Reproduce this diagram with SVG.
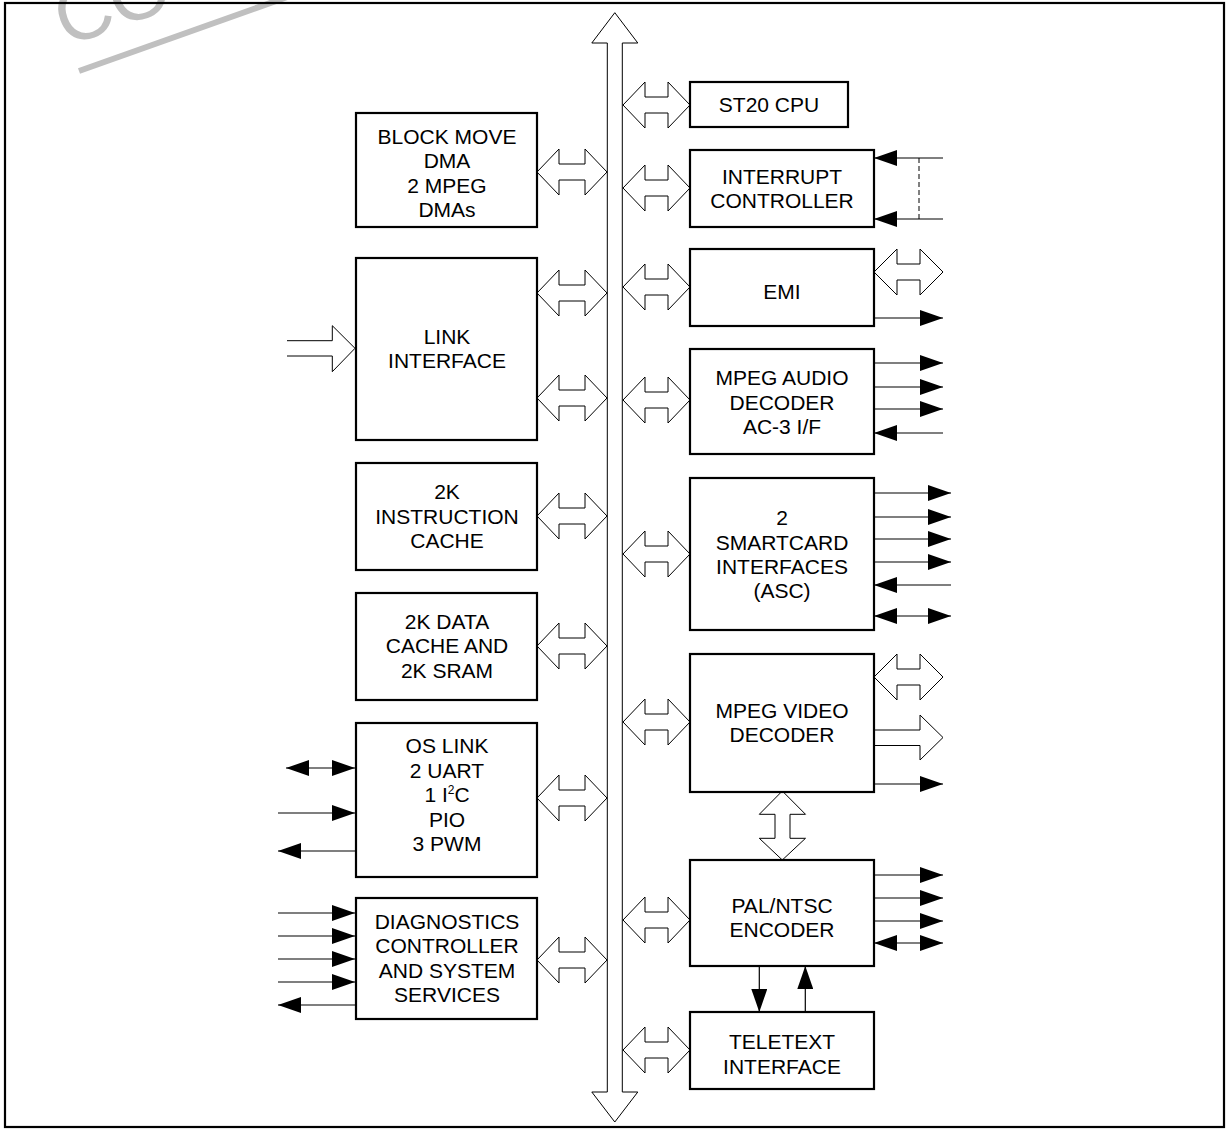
<svg xmlns="http://www.w3.org/2000/svg" width="1227" height="1131" viewBox="0 0 1227 1131">
<style>
.box{fill:#fff;stroke:#000;stroke-width:2.2}
.hol{fill:#fff;stroke:#000;stroke-width:1}
.ln{fill:none;stroke:#000;stroke-width:1.2}
.t{font-family:"Liberation Sans",Arial,sans-serif;font-size:21px;fill:#000;text-anchor:middle}
</style>
<defs>
<marker id="ah" viewBox="0 0 23 16" refX="23" refY="8" markerWidth="23" markerHeight="16" markerUnits="userSpaceOnUse" orient="auto-start-reverse">
<path d="M0,0 L23,8 L0,16 Z" fill="#000"/>
</marker>
<path id="dblR" d="M0,0 L22,-23 L22,-8 L45,-8 L45,-23 L67,0 L45,23 L45,8 L22,8 L22,23 Z"/>
<path id="dblL" d="M0,0 L22,-23 L22,-8 L48,-8 L48,-23 L70,0 L48,23 L48,8 L22,8 L22,23 Z"/>
<path id="dblO" d="M0,0 L23,-23 L23,-8 L46,-8 L46,-23 L69,0 L46,23 L46,8 L23,8 L23,23 Z"/>
</defs>

<!-- watermark -->
<g id="watermark">
<line x1="79" y1="71" x2="290" y2="-4" stroke="#c0c0c0" stroke-width="6"/>
<text x="66" y="47" transform="rotate(-20 66 47)" style="font-family:'Liberation Sans',Arial,sans-serif;font-size:78px;fill:#c0c0c0">CO</text>
</g>

<rect x="5" y="3" width="1219" height="1124" fill="none" stroke="#000" stroke-width="2.2"/>

<!-- bus -->
<g id="bus">
<path class="hol" d="M614.8,12.7 L637.8,43 L622.3,43 L622.3,1092 L637.8,1092 L614.8,1122 L591.8,1092 L607.3,1092 L607.3,43 L591.8,43 Z"/>
</g>

<g id="connectors">
<!-- right bus connectors -->
<use href="#dblR" class="hol" x="623" y="105"/>
<use href="#dblR" class="hol" x="623" y="188"/>
<use href="#dblR" class="hol" x="623" y="287"/>
<use href="#dblR" class="hol" x="623" y="400"/>
<use href="#dblR" class="hol" x="623" y="554"/>
<use href="#dblR" class="hol" x="623" y="722"/>
<use href="#dblR" class="hol" x="623" y="920"/>
<use href="#dblR" class="hol" x="623" y="1050"/>
<!-- left bus connectors -->
<use href="#dblL" class="hol" x="537" y="172"/>
<use href="#dblL" class="hol" x="537" y="293"/>
<use href="#dblL" class="hol" x="537" y="398"/>
<use href="#dblL" class="hol" x="537" y="516"/>
<use href="#dblL" class="hol" x="537" y="646"/>
<use href="#dblL" class="hol" x="537" y="798"/>
<use href="#dblL" class="hol" x="537" y="960"/>

<!-- interrupt -->
<line class="ln" x1="943" y1="158" x2="874" y2="158" marker-end="url(#ah)"/>
<line class="ln" x1="943" y1="219" x2="874" y2="219" marker-end="url(#ah)"/>
<line x1="919" y1="158" x2="919" y2="219" stroke="#000" stroke-width="1" stroke-dasharray="5,3"/>
<!-- EMI -->
<use href="#dblO" class="hol" x="874" y="272"/>
<line class="ln" x1="874" y1="318" x2="943" y2="318" marker-end="url(#ah)"/>
<!-- audio -->
<line class="ln" x1="874" y1="363" x2="943" y2="363" marker-end="url(#ah)"/>
<line class="ln" x1="874" y1="387" x2="943" y2="387" marker-end="url(#ah)"/>
<line class="ln" x1="874" y1="409" x2="943" y2="409" marker-end="url(#ah)"/>
<line class="ln" x1="943" y1="433" x2="874" y2="433" marker-end="url(#ah)"/>
<!-- smartcard -->
<line class="ln" x1="874" y1="493" x2="951" y2="493" marker-end="url(#ah)"/>
<line class="ln" x1="874" y1="517" x2="951" y2="517" marker-end="url(#ah)"/>
<line class="ln" x1="874" y1="539" x2="951" y2="539" marker-end="url(#ah)"/>
<line class="ln" x1="874" y1="562" x2="951" y2="562" marker-end="url(#ah)"/>
<line class="ln" x1="951" y1="585" x2="874" y2="585" marker-end="url(#ah)"/>
<line class="ln" x1="874" y1="616" x2="951" y2="616" marker-start="url(#ah)" marker-end="url(#ah)"/>
<!-- video -->
<use href="#dblO" class="hol" x="874" y="677"/>
<path class="hol" d="M874,730 L920,730 L920,715 L943,737.5 L920,760 L920,745.5 L874,745.5"/>
<line class="ln" x1="874" y1="784" x2="943" y2="784" marker-end="url(#ah)"/>
<path class="hol" d="M782.3,791 L805.5,814.3 L790,814.3 L790,838.3 L805.5,838.3 L782.3,860 L759.3,838.3 L775,838.3 L775,814.3 L759.3,814.3 Z"/>
<!-- PAL -->
<line class="ln" x1="874" y1="875" x2="943" y2="875" marker-end="url(#ah)"/>
<line class="ln" x1="874" y1="898" x2="943" y2="898" marker-end="url(#ah)"/>
<line class="ln" x1="874" y1="921" x2="943" y2="921" marker-end="url(#ah)"/>
<line class="ln" x1="874" y1="943" x2="943" y2="943" marker-start="url(#ah)" marker-end="url(#ah)"/>
<line class="ln" x1="759.3" y1="966" x2="759.3" y2="1012" marker-end="url(#ah)"/>
<line class="ln" x1="805.3" y1="1012" x2="805.3" y2="966" marker-end="url(#ah)"/>
<!-- link interface input -->
<path class="hol" d="M287,340.7 L332.3,340.7 L332.3,325.7 L355,348.3 L332.3,371.7 L332.3,356 L287,356"/>
<!-- OS link -->
<line class="ln" x1="286" y1="768" x2="355" y2="768" marker-start="url(#ah)" marker-end="url(#ah)"/>
<line class="ln" x1="278" y1="813" x2="355" y2="813" marker-end="url(#ah)"/>
<line class="ln" x1="355" y1="851" x2="278" y2="851" marker-end="url(#ah)"/>
<!-- diagnostics -->
<line class="ln" x1="278" y1="913" x2="355" y2="913" marker-end="url(#ah)"/>
<line class="ln" x1="278" y1="936" x2="355" y2="936" marker-end="url(#ah)"/>
<line class="ln" x1="278" y1="959" x2="355" y2="959" marker-end="url(#ah)"/>
<line class="ln" x1="278" y1="982" x2="355" y2="982" marker-end="url(#ah)"/>
<line class="ln" x1="355" y1="1005" x2="278" y2="1005" marker-end="url(#ah)"/>
</g>

<!-- right nodes -->
<g id="st20"><rect class="box" x="690" y="82" width="158" height="45"/><text class="t" x="769" y="112">ST20 CPU</text></g>
<g id="interrupt"><rect class="box" x="690" y="150" width="184" height="77"/><text class="t" x="782" y="184">INTERRUPT</text><text class="t" x="782" y="208">CONTROLLER</text></g>
<g id="emi"><rect class="box" x="690" y="249" width="184" height="77"/><text class="t" x="782" y="299">EMI</text></g>
<g id="audio"><rect class="box" x="690" y="349" width="184" height="105"/><text class="t" x="782" y="385">MPEG AUDIO</text><text class="t" x="782" y="410">DECODER</text><text class="t" x="782" y="434">AC-3 I/F</text></g>
<g id="smartcard"><rect class="box" x="690" y="478" width="184" height="152"/><text class="t" x="782" y="525">2</text><text class="t" x="782" y="550">SMARTCARD</text><text class="t" x="782" y="574">INTERFACES</text><text class="t" x="782" y="598">(ASC)</text></g>
<g id="video"><rect class="box" x="690" y="654" width="184" height="138"/><text class="t" x="782" y="718">MPEG VIDEO</text><text class="t" x="782" y="742">DECODER</text></g>
<g id="pal"><rect class="box" x="690" y="860" width="184" height="106"/><text class="t" x="782" y="913">PAL/NTSC</text><text class="t" x="782" y="937">ENCODER</text></g>
<g id="teletext"><rect class="box" x="690" y="1012" width="184" height="77"/><text class="t" x="782" y="1049">TELETEXT</text><text class="t" x="782" y="1074">INTERFACE</text></g>

<!-- left nodes -->
<g id="blockmove"><rect class="box" x="356" y="113" width="181" height="114"/><text class="t" x="447" y="144">BLOCK MOVE</text><text class="t" x="447" y="168">DMA</text><text class="t" x="447" y="193">2 MPEG</text><text class="t" x="447" y="217">DMAs</text></g>
<g id="link"><rect class="box" x="356" y="258" width="181" height="182"/><text class="t" x="447" y="344">LINK</text><text class="t" x="447" y="368">INTERFACE</text></g>
<g id="icache"><rect class="box" x="356" y="463" width="181" height="107"/><text class="t" x="447" y="499">2K</text><text class="t" x="447" y="524">INSTRUCTION</text><text class="t" x="447" y="548">CACHE</text></g>
<g id="dcache"><rect class="box" x="356" y="593" width="181" height="107"/><text class="t" x="447" y="629">2K DATA</text><text class="t" x="447" y="653">CACHE AND</text><text class="t" x="447" y="678">2K SRAM</text></g>
<g id="oslink"><rect class="box" x="356" y="723" width="181" height="154"/><text class="t" x="447" y="753">OS LINK</text><text class="t" x="447" y="778">2 UART</text><text class="t" x="447" y="802">1 I<tspan font-size="12" dy="-8">2</tspan><tspan dy="8">C</tspan></text><text class="t" x="447" y="827">PIO</text><text class="t" x="447" y="851">3 PWM</text></g>
<g id="diag"><rect class="box" x="356" y="898" width="181" height="121"/><text class="t" x="447" y="929">DIAGNOSTICS</text><text class="t" x="447" y="953">CONTROLLER</text><text class="t" x="447" y="978">AND SYSTEM</text><text class="t" x="447" y="1002">SERVICES</text></g>
</svg>
